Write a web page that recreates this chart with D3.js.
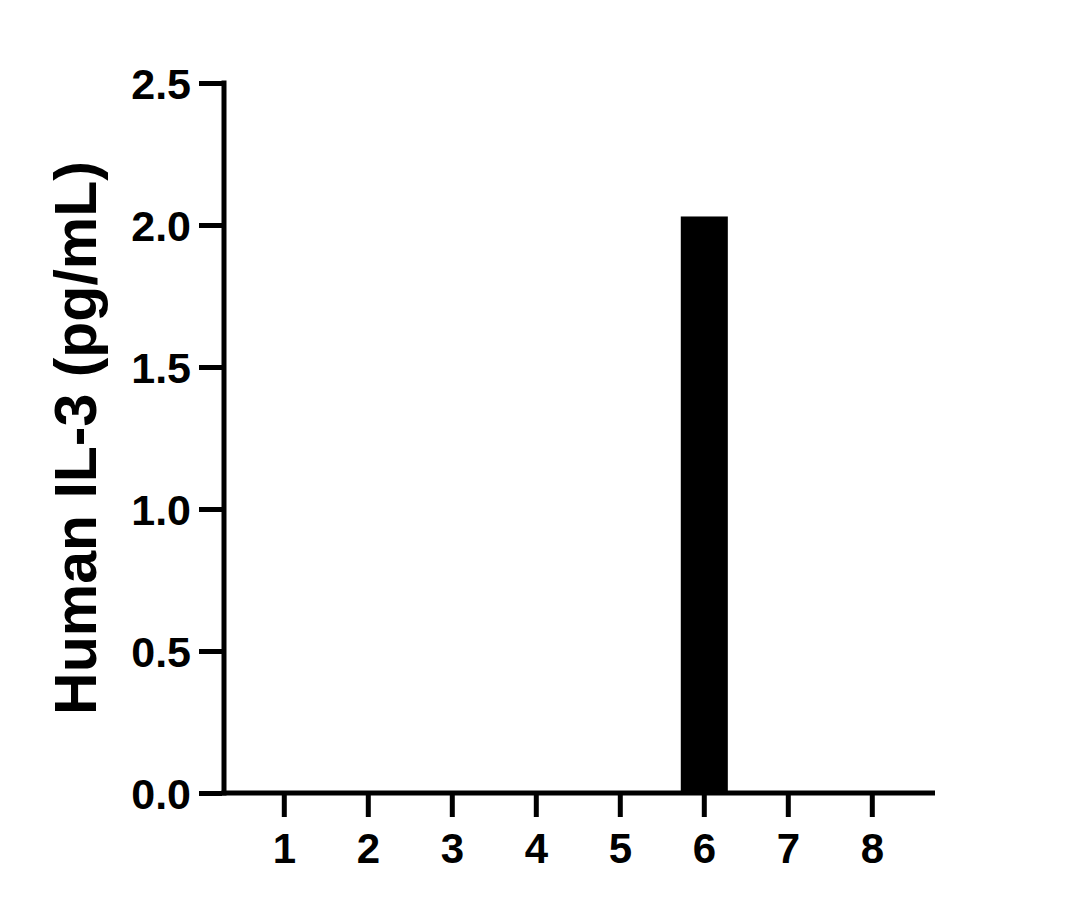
<!DOCTYPE html>
<html>
<head>
<meta charset="utf-8">
<script src="https://cdn.jsdelivr.net/npm/d3@7"></script>
<style>
	body { margin: 0; background: #fff; }
	svg text { font-family: "Liberation Sans", Arial, sans-serif; font-weight: bold; fill: #000; }
</style>
</head>
<body>
<div class="container"></div>
<script>
var categories = ['1', '2', '3', '4', '5', '6', '7', '8'];
var values = [0, 0, 0, 0, 0, 2.03, 0, 0];
var yTicks = [0.0, 0.5, 1.0, 1.5, 2.0, 2.5];
var yTitle = 'Human IL-3 (pg/mL)';

var width = 1067, height = 910;
var plot = { left: 224, right: 935, top: 83, bottom: 793 };

var svg = d3.select('.container')
	.append('svg')
	.attr('width', width)
	.attr('height', height);

var yScale = d3.scaleLinear()
	.domain([0, 2.5])
	.range([plot.bottom, plot.top]);

var xScale = d3.scaleBand()
	.domain(categories)
	.range([242.3, 914.3])
	.paddingInner(0.44)
	.paddingOuter(0.22);

// bars
svg.append('g')
	.selectAll('rect')
	.data(values)
	.enter().append('rect')
	.attr('x', (d, i) => xScale(categories[i]))
	.attr('y', d => yScale(d))
	.attr('width', xScale.bandwidth())
	.attr('height', d => plot.bottom - yScale(d))
	.attr('fill', '#000');

// y axis
var yAxis = d3.axisLeft(yScale)
	.tickValues(yTicks)
	.tickFormat(d3.format('.1f'))
	.tickSize(23)
	.tickPadding(8);

var gy = svg.append('g')
	.attr('transform', 'translate(' + (plot.left - 2) + ',0)')
	.call(yAxis);
gy.select('.domain').remove();
gy.selectAll('line').attr('stroke', '#000').attr('stroke-width', 5);
gy.selectAll('text').style('font-size', '43px').attr('dy', '0.36em');

svg.append('line')
	.attr('x1', plot.left).attr('x2', plot.left)
	.attr('y1', plot.top - 2.5).attr('y2', plot.bottom + 2.5)
	.attr('stroke', '#000').attr('stroke-width', 5);

// x axis
var xAxis = d3.axisBottom(xScale)
	.tickSize(24)
	.tickPadding(16);

var gx = svg.append('g')
	.attr('transform', 'translate(0,' + plot.bottom + ')')
	.call(xAxis);
gx.select('.domain').remove();
gx.selectAll('line').attr('stroke', '#000').attr('stroke-width', 5);
gx.selectAll('text').style('font-size', '42px');

svg.append('line')
	.attr('x1', plot.left - 2.5).attr('x2', plot.right)
	.attr('y1', plot.bottom).attr('y2', plot.bottom)
	.attr('stroke', '#000').attr('stroke-width', 5);

// y title
svg.append('text')
	.attr('transform', 'translate(96,438) rotate(-90)')
	.attr('text-anchor', 'middle')
	.style('font-size', '59px')
	.text(yTitle);
</script>
</body>
</html>
